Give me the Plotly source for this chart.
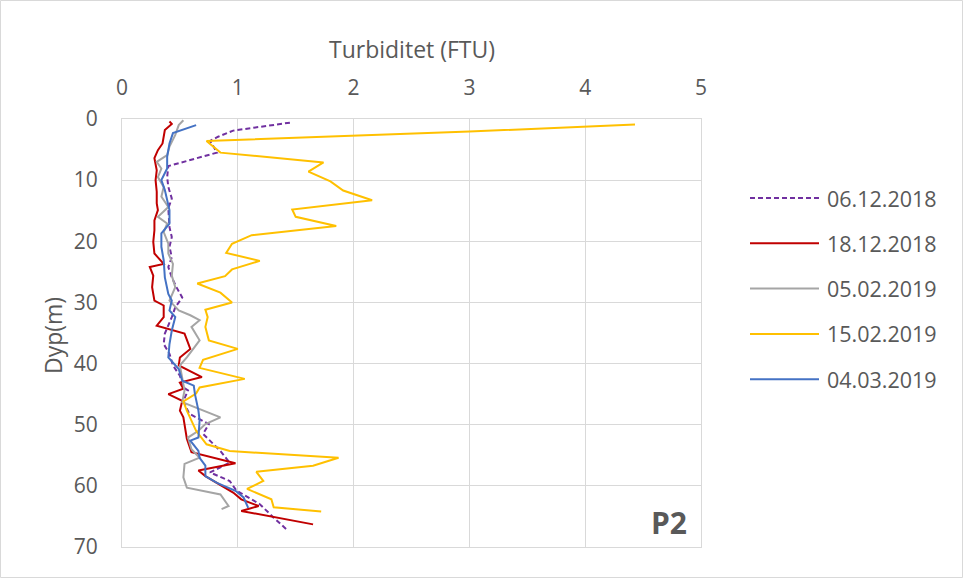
import plotly.graph_objects as go

# ---- data ----
SERIES_NAMES = ["06.12.2018", "18.12.2018", "05.02.2019", "15.02.2019", "04.03.2019"]
SERIES_COLORS = ["#7030A0", "#C00000", "#A5A5A5", "#FFC000", "#4472C4"]

d_0612 = [0.6, 1.9, 2.9, 3.6, 4.5, 5.5, 7.7, 9.5, 11.1, 13.0, 14.6, 16.6, 17.7, 19.3, 20.9, 22.6,
          24.2, 25.9, 27.5, 29.2, 30.8, 32.4, 35.1, 36.8, 38.4, 40.3, 42.0, 43.9, 44.4, 46.1, 48.2,
          49.9, 51.5, 54.3, 56.2, 57.8, 59.2, 60.8, 63.0, 65.2, 67.1]
t_0612 = [1.45, 0.96, 0.83, 0.76, 0.79, 0.82, 0.40, 0.39, 0.40, 0.43, 0.40, 0.41, 0.41, 0.43, 0.41, 0.43,
          0.40, 0.43, 0.47, 0.52, 0.46, 0.43, 0.37, 0.36, 0.41, 0.44, 0.50, 0.53, 0.57, 0.53, 0.58,
          0.75, 0.70, 0.85, 0.93, 0.76, 0.93, 0.99, 1.19, 1.31, 1.42]

d_1812 = [0.4, 0.8, 1.8, 2.9, 4.0, 5.1, 6.4, 8.4, 10.0, 11.9, 13.8, 14.9, 16.6, 18.2, 20.1, 22.0,
          23.7, 24.2, 25.6, 27.5, 29.7, 30.5, 32.4, 33.8, 34.6, 35.1, 37.6, 39.0, 40.3, 42.2, 43.1,
          44.1, 45.0, 46.1, 47.7, 48.8, 52.3, 54.5, 56.3, 57.5, 58.4, 61.1, 62.2, 63.3, 64.1, 66.3]
t_1812 = [0.41, 0.43, 0.37, 0.36, 0.35, 0.31, 0.28, 0.30, 0.29, 0.30, 0.30, 0.31, 0.28, 0.28, 0.27, 0.28,
          0.36, 0.24, 0.27, 0.26, 0.28, 0.36, 0.36, 0.30, 0.46, 0.54, 0.59, 0.50, 0.49, 0.69, 0.50,
          0.53, 0.40, 0.52, 0.50, 0.53, 0.56, 0.60, 0.98, 0.66, 0.72, 0.96, 1.03, 1.18, 1.03, 1.65]

d_0502 = [0.2, 1.0, 2.6, 4.5, 5.9, 7.0, 8.1, 9.5, 11.1, 12.7, 14.4, 16.0, 17.1, 18.5, 20.4, 22.0,
          23.7, 25.6, 27.5, 29.7, 31.3, 32.1, 32.9, 34.0, 36.2, 39.0, 40.3, 44.4, 46.3, 47.2, 48.8,
          49.9, 51.0, 52.1, 54.0, 55.4, 56.4, 58.6, 60.3, 61.4, 63.3, 63.8]
t_0502 = [0.53, 0.49, 0.46, 0.41, 0.39, 0.30, 0.34, 0.31, 0.36, 0.34, 0.40, 0.31, 0.39, 0.36, 0.40, 0.40,
          0.44, 0.43, 0.46, 0.41, 0.49, 0.59, 0.67, 0.60, 0.67, 0.56, 0.50, 0.54, 0.52, 0.64, 0.85,
          0.72, 0.66, 0.57, 0.60, 0.67, 0.54, 0.53, 0.56, 0.85, 0.92, 0.86]

d_1502 = [0.9, 2.05, 3.6, 5.5, 7.1, 8.6, 10.2, 11.7, 13.3, 14.8, 16.0, 17.5, 19.0, 20.4, 21.9, 23.2,
          24.6, 25.7, 26.9, 28.4, 30.0, 31.2, 32.4, 34.0, 36.2, 37.6, 39.4, 40.7, 42.5, 43.9, 44.9,
          46.2, 47.7, 49.6, 51.0, 53.2, 54.3, 55.4, 56.7, 57.7, 59.2, 60.5, 62.2, 63.5, 64.2]
t_1502 = [4.43, 3.00, 0.73, 0.85, 1.74, 1.61, 1.80, 1.91, 2.16, 1.47, 1.50, 1.85, 1.12, 0.95, 0.90, 1.19,
          0.95, 0.89, 0.65, 0.85, 0.95, 0.72, 0.74, 0.72, 0.75, 1.00, 0.70, 0.67, 1.06, 0.67, 0.64,
          0.53, 0.56, 0.61, 0.64, 0.73, 0.93, 1.87, 1.65, 1.16, 1.22, 1.08, 1.29, 1.31, 1.72]

d_0403 = [1.0, 2.3, 4.0, 6.2, 8.1, 10.0, 11.6, 13.3, 14.9, 17.1, 18.7, 20.9, 23.1, 25.9, 28.6, 29.7,
          31.3, 32.4, 34.6, 36.8, 39.0, 40.9, 42.8, 43.6, 45.0, 47.7, 49.3, 52.1, 52.6, 54.3, 55.4,
          56.7, 58.4, 59.5, 60.8, 61.9, 63.6]
t_0403 = [0.64, 0.44, 0.41, 0.39, 0.39, 0.34, 0.37, 0.39, 0.41, 0.41, 0.34, 0.34, 0.36, 0.37, 0.40, 0.43,
          0.41, 0.46, 0.43, 0.41, 0.40, 0.49, 0.52, 0.62, 0.63, 0.66, 0.67, 0.66, 0.59, 0.66, 0.67,
          0.72, 0.72, 0.82, 0.98, 1.05, 1.09]

X_TICKS = [0, 1, 2, 3, 4, 5]
Y_TICKS = [0, 10, 20, 30, 40, 50, 60, 70]
X_TITLE = "Turbiditet (FTU)"
Y_TITLE = "Dyp(m)"
PANEL_LABEL = "P2"

series = [(d_0612, t_0612), (d_1812, t_1812), (d_0502, t_0502), (d_1502, t_1502), (d_0403, t_0403)]
dashes = ["5px,3px", "solid", "solid", "solid", "solid"]

FONT = "Open Sans"
TXT = "#595959"
GRID = "#D9D9D9"

fig = go.Figure()
for (d, t), name, col, dash in zip(series, SERIES_NAMES, SERIES_COLORS, dashes):
    fig.add_trace(go.Scatter(x=t, y=d, mode="lines", name=name,
                             line=dict(color=col, width=2, dash=dash),
                             showlegend=False))

W, H = 963, 578
L, R, T, B = 122, 701, 119, 547
pw, ph = R - L, B - T

def px(xp):
    return (xp - L) / pw

def py(yp):
    return 1 - (yp - T) / ph

shapes = []
annotations = []
# outer chart border
shapes.append(dict(type="rect", xref="paper", yref="paper",
                   x0=px(0.5), x1=px(962.5), y0=py(577.5), y1=py(0.5),
                   line=dict(color=GRID, width=1), fillcolor="rgba(0,0,0,0)", layer="below"))
# manual legend
for i, (name, col, dash) in enumerate(zip(SERIES_NAMES, SERIES_COLORS, dashes)):
    yy = py(198 + 45.3 * i)
    shapes.append(dict(type="line", xref="paper", yref="paper",
                       x0=px(750), x1=px(819), y0=yy, y1=yy,
                       line=dict(color=col, width=2, dash=dash)))
    annotations.append(dict(x=px(825), y=yy, xref="paper", yref="paper", text=name,
                            showarrow=False, xanchor="left", yanchor="middle",
                            font=dict(family=FONT, size=21.5, color=TXT)))

annotations.append(dict(x=0.5, y=py(49), xref="paper", yref="paper", text=X_TITLE,
                        showarrow=False, xanchor="center", yanchor="middle",
                        font=dict(family=FONT, size=23, color=TXT)))
annotations.append(dict(x=px(53), y=py(336), xref="paper", yref="paper", text=Y_TITLE,
                        showarrow=False, xanchor="center", yanchor="middle", textangle=-90,
                        font=dict(family=FONT, size=23, color=TXT)))
annotations.append(dict(x=px(689), y=py(522), xref="paper", yref="paper", text="<b>" + PANEL_LABEL + "</b>",
                        showarrow=False, xanchor="right", yanchor="middle",
                        font=dict(family=FONT, size=30, color=TXT)))

fig.update_layout(
    width=W, height=H,
    margin=dict(l=L, r=W - R, t=T, b=H - B, pad=0),
    paper_bgcolor="white", plot_bgcolor="white",
    shapes=shapes, annotations=annotations,
    font=dict(family=FONT, size=21, color=TXT),
    xaxis=dict(side="top", range=[0, 5], tickvals=X_TICKS, ticktext=[str(v) for v in X_TICKS],
               showgrid=True, gridcolor=GRID, gridwidth=1, zeroline=False,
               showline=True, linecolor=GRID, linewidth=1, mirror=True,
               ticks="outside", ticklen=15, tickcolor="rgba(0,0,0,0)",
               tickfont=dict(family=FONT, size=21, color=TXT)),
    yaxis=dict(range=[70, 0], tickvals=Y_TICKS, ticktext=[str(v) for v in Y_TICKS],
               showgrid=True, gridcolor=GRID, gridwidth=1, zeroline=False,
               showline=True, linecolor=GRID, linewidth=1, mirror=True,
               ticks="outside", ticklen=19, tickcolor="rgba(0,0,0,0)",
               tickfont=dict(family=FONT, size=21, color=TXT)),
)

fig.write_html("out.html", config={"displayModeBar": False},
               post_script="document.body.style.margin='0px';document.body.style.overflow='hidden';"
                           "document.documentElement.style.overflow='hidden';")
